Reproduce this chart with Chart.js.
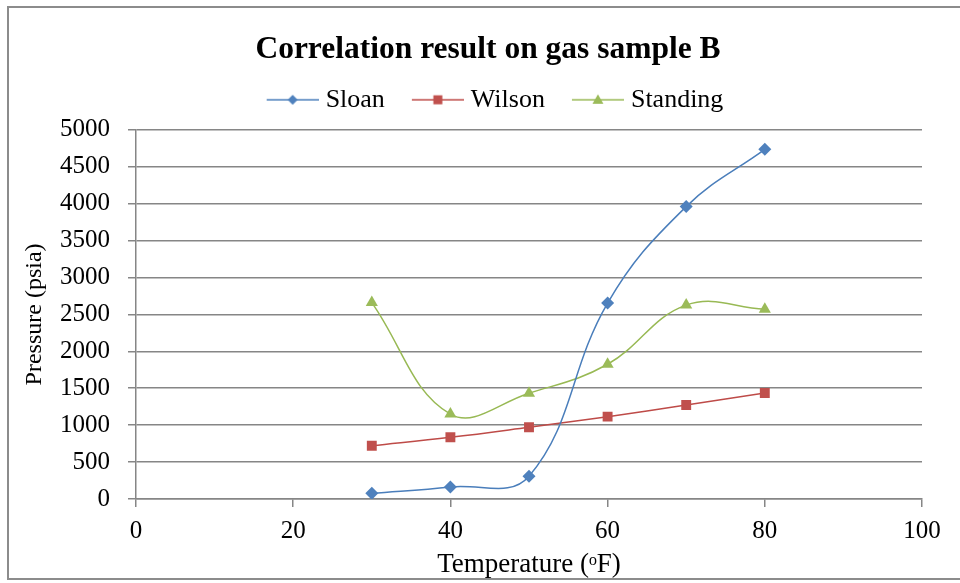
<!DOCTYPE html>
<html>
<head>
<meta charset="utf-8">
<script src="https://cdn.jsdelivr.net/npm/chart.js@4"></script>
<style>
    html, body { margin: 0; padding: 0; background: #fff; overflow: hidden; }
    #frame {
        position: absolute; left: 7px; top: 6px; width: 1000px; height: 574px;
        box-sizing: border-box; border: 2px solid #8c8c8c;
    }
    #chart { position: absolute; left: 0; top: 0; }
</style>
</head>
<body>
<div id="frame"></div>
<canvas id="chart" width="960" height="583"></canvas>
<script>
// Datos
const temperatures = [30, 40, 50, 60, 70, 80];
const sloanValues = [77, 163, 308, 2653, 3960, 4735];
const wilsonValues = [722, 836, 972, 1115, 1274, 1436];
const standingValues = [2660, 1150, 1432, 1825, 2626, 2570];
const seriesNames = ['Sloan', 'Wilson', 'Standing'];
const xTicks = [0, 20, 40, 60, 80, 100];
const yTicks = [0, 500, 1000, 1500, 2000, 2500, 3000, 3500, 4000, 4500, 5000];

const FONT = "'Liberation Serif', 'Times New Roman', serif";
const GRID = '#868686';

const styles = [
    { line: '#4a7ebb', fill: '#4f81bd', marker: 'rectRot', radius: 6.5, tension: 0.4 },
    { line: '#be4b48', fill: '#c0504d', marker: 'rect', radius: 7, tension: 0.4 },
    { line: '#98b954', fill: '#9bbb59', marker: 'triangle', radius: 7, tension: 0.4 }
];

// Icono de leyenda: línea con marcador en el centro
function legendIcon(style) {
    const c = document.createElement('canvas');
    c.width = 58;
    c.height = 16;
    const g = c.getContext('2d');
    g.strokeStyle = style.line;
    g.lineWidth = 1.5;
    g.beginPath();
    g.moveTo(6, 8);
    g.lineTo(58, 8);
    g.stroke();
    g.fillStyle = style.fill;
    g.beginPath();
    if (style.marker === 'rectRot') {
        g.moveTo(32, 3); g.lineTo(37, 8); g.lineTo(32, 13); g.lineTo(27, 8);
    } else if (style.marker === 'rect') {
        g.rect(27.5, 3.5, 9, 9);
    } else {
        g.moveTo(32, 2.5); g.lineTo(37.5, 12); g.lineTo(26.5, 12);
    }
    g.closePath();
    g.fill();
    return c;
}

const seriesValues = [sloanValues, wilsonValues, standingValues];

const datasets = seriesNames.map((name, i) => ({
    label: name,
    data: temperatures.map((t, j) => ({ x: t, y: seriesValues[i][j] })),
    borderColor: styles[i].line,
    backgroundColor: styles[i].fill,
    borderWidth: 1.5,
    pointStyle: styles[i].marker,
    pointRadius: styles[i].radius,
    pointHoverRadius: styles[i].radius,
    pointBackgroundColor: styles[i].fill,
    pointBorderColor: styles[i].fill,
    pointBorderWidth: 0,
    tension: styles[i].tension,
    fill: false
}));

const icons = styles.map(legendIcon);

// Ajustes de la leyenda: más alto y desplazado un poco a la derecha
const legendTweak = {
    id: 'legendTweak',
    beforeInit(chart) {
        const legend = chart.legend;
        const fit = legend.fit;
        legend.fit = function () {
            fit.call(this);
            this.height += 7;
        };
    },
    afterLayout(chart) {
        chart.legend.left += 7;
        chart.legend.right += 7;
    }
};

new Chart(document.getElementById('chart').getContext('2d'), {
    type: 'line',
    data: { datasets },
    plugins: [legendTweak],
    options: {
        responsive: false,
        animation: false,
        layout: { padding: { left: 16, right: 0, top: 0, bottom: 0 } },
        plugins: {
            title: {
                display: true,
                text: 'Correlation result on gas sample B',
                color: '#000',
                font: { family: FONT, size: 31.5, weight: 'bold' },
                padding: { top: 31, bottom: -9 }
            },
            legend: {
                display: true,
                labels: {
                    usePointStyle: true,
                    pointStyleWidth: 46,
                    padding: 27,
                    color: '#000',
                    font: { family: FONT, size: 26 },
                    generateLabels: (chart) => chart.data.datasets.map((ds, i) => ({
                        text: ds.label,
                        pointStyle: icons[i],
                        fillStyle: ds.backgroundColor,
                        strokeStyle: ds.borderColor,
                        lineWidth: 0,
                        fontColor: '#000',
                        hidden: false,
                        datasetIndex: i
                    }))
                }
            },
            tooltip: { enabled: false }
        },
        scales: {
            x: {
                type: 'linear',
                min: 0,
                max: 100,
                afterBuildTicks: (scale) => { scale.ticks = xTicks.map(v => ({ value: v })); },
                afterFit: (scale) => { scale.height = 84; },
                grid: { drawOnChartArea: false, drawTicks: true, tickLength: 8, color: GRID, lineWidth: 1.5 },
                border: { color: GRID, width: 1.5 },
                ticks: { color: '#000', font: { family: FONT, size: 25 }, padding: 9, maxRotation: 0, callback: (v) => String(v) },
                title: {
                    display: true,
                    text: 'Temperature (ᵒF)',
                    color: '#000',
                    font: { family: FONT, size: 27 },
                    padding: { top: 0, bottom: 2 }
                }
            },
            y: {
                type: 'linear',
                min: 0,
                max: 5000,
                afterBuildTicks: (scale) => { scale.ticks = yTicks.map(v => ({ value: v })); },
                afterFit: (scale) => { scale.width = 120; },
                grid: { drawOnChartArea: true, drawTicks: true, tickLength: 8, color: GRID, lineWidth: 1.5 },
                border: { color: GRID, width: 1.5 },
                ticks: { color: '#000', font: { family: FONT, size: 25 }, padding: 18, callback: (v) => String(v) },
                title: {
                    display: true,
                    text: 'Pressure (psia)',
                    color: '#000',
                    font: { family: FONT, size: 24 },
                    padding: { top: 4, bottom: 0 }
                }
            },
            // Eje derecho vacío para reservar el margen
            yRight: {
                type: 'linear',
                position: 'right',
                display: true,
                afterFit: (scale) => { scale.width = 38; },
                grid: { display: false },
                border: { display: false },
                ticks: { display: false }
            }
        }
    }
});
</script>
</body>
</html>
